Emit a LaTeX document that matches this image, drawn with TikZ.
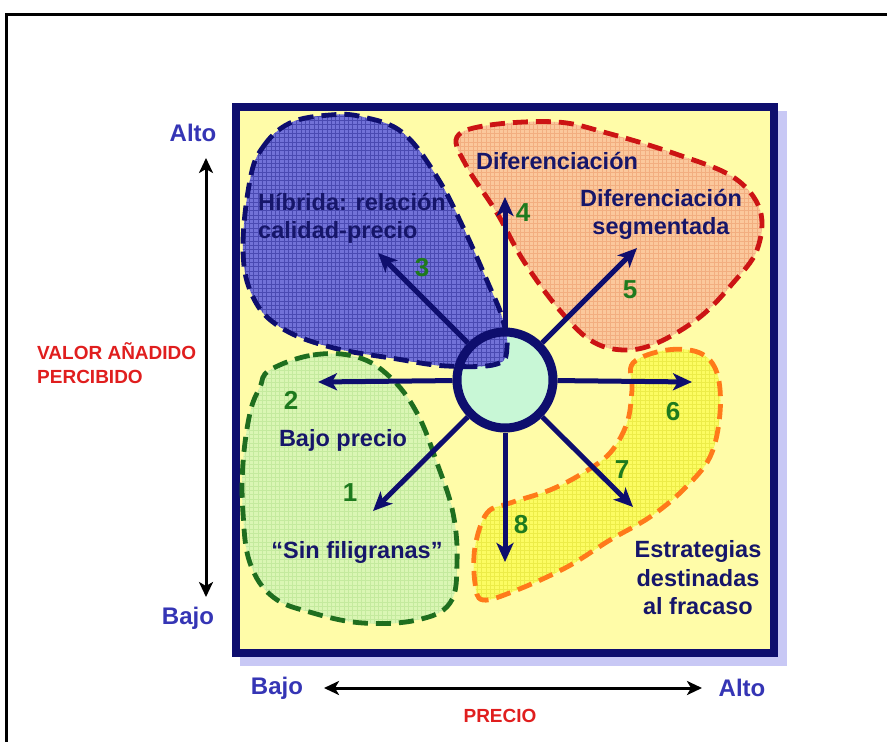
\documentclass[tikz,border=0pt]{standalone}
\usepackage{fontspec}
\setmainfont{Liberation Sans}
\usetikzlibrary{arrows.meta}

\definecolor{navy}{HTML}{0E0E6E}
\definecolor{labelnavy}{HTML}{16166A}
\definecolor{axisblue}{HTML}{3535B5}
\definecolor{axisred}{HTML}{E01E1E}
\definecolor{numgreen}{HTML}{1E7A1E}
\definecolor{boardbg}{HTML}{FFFCA8}
\definecolor{shadowlav}{HTML}{C8C8F5}
\definecolor{hubfill}{HTML}{C8F7D6}
\definecolor{hybfill}{HTML}{7272D8}
\definecolor{hybgrid}{HTML}{4A4AB2}
\definecolor{difffill}{HTML}{FBC89C}
\definecolor{diffgrid}{HTML}{F2AE80}
\definecolor{diffline}{HTML}{CC1414}
\definecolor{lowfill}{HTML}{DAF6B4}
\definecolor{lowgrid}{HTML}{C4EA9E}
\definecolor{lowline}{HTML}{1F6E1F}
\definecolor{failfill}{HTML}{FCFC62}
\definecolor{failgrid}{HTML}{ECEC48}
\definecolor{failline}{HTML}{FF7A1A}

\tikzset{
  zoneline/.style={line width=4.8pt, dash pattern=on 15pt off 8pt},
  stratarrow/.style={navy, line width=5pt, -{Stealth[length=19pt,width=17pt,inset=5pt]}},
  axisarrow/.style={black, line width=3pt, {Stealth[length=15pt,width=14pt,inset=4pt]}-{Stealth[length=15pt,width=14pt,inset=4pt]}},
  zonetext/.style={labelnavy, font=\fontsize{23.5}{28}\selectfont\bfseries, inner sep=0pt},
  numtext/.style={numgreen, font=\fontsize{26}{28}\selectfont\bfseries, inner sep=0pt},
  axislabel/.style={axisblue, font=\fontsize{24}{28}\selectfont\bfseries, inner sep=0pt},
  axistitle/.style={axisred, font=\fontsize{19}{24}\selectfont\bfseries, inner sep=0pt}
}

\begin{document}
\begin{tikzpicture}[x=1pt, y=-1pt]
\useasboundingbox (0,0) rectangle (887,742);

% outer frame
\draw[black, line width=3pt] (6,742) -- (6,14) -- (887,14);

% board with its shadow
\fill[shadowlav] (240,111) rectangle (787,666);
\draw[navy, line width=8pt, fill=boardbg] (236,107) rectangle (774,653);

% hub background (zones are laid over it)
\fill[hubfill] (505,380) circle (48);

% zone shapes
\def\hybzone{plot[smooth cycle, tension=0.65] coordinates {(250,180) (263,147) (290,123) (330,115) (363,117) (403,133) (437,177) (463,227) (488,283) (502,317) (507,347) (497,364) (447,366) (397,359) (330,347) (280,327) (253,297) (243,250)}}
\def\diffzone{plot[smooth cycle, tension=0.6] coordinates {(457,137) (490,125) (557,122) (607,133) (673,153) (733,177) (760,210) (757,250) (733,283) (700,317) (657,343) (623,350) (590,340) (557,307) (523,260) (497,213) (467,167)}}
\def\lowzone{plot[smooth cycle, tension=0.65] coordinates {(270,370) (313,355) (357,357) (390,377) (417,413) (437,463) (453,513) (457,563) (450,603) (417,620) (363,623) (313,613) (273,597) (250,563) (243,513) (243,463) (250,413) (260,387)}}
\def\failzone{plot[smooth cycle, tension=0.6] coordinates {(633,363) (667,350) (700,353) (717,373) (720,413) (710,457) (683,490) (650,517) (610,540) (567,567) (517,590) (483,600) (475,583) (475,547) (487,513) (510,503) (550,490) (583,473) (610,453) (627,423) (632,390)}}

% each zone: fill, fine grid texture, dashed outline
\fill[hybfill] \hybzone;
\begin{scope}\clip \hybzone; \draw[hybgrid, line width=0.6pt, step=4.3pt] (230,100) grid (560,380);\end{scope}
\draw[navy, zoneline] \hybzone;

\fill[difffill] \diffzone;
\begin{scope}\clip \diffzone; \draw[diffgrid, line width=0.6pt, step=4.3pt] (440,110) grid (780,360);\end{scope}
\draw[diffline, zoneline] \diffzone;

\fill[lowfill] \lowzone;
\begin{scope}\clip \lowzone; \draw[lowgrid, line width=0.6pt, step=4.3pt] (230,340) grid (470,640);\end{scope}
\draw[lowline, zoneline] \lowzone;

\fill[failfill] \failzone;
\begin{scope}\clip \failzone; \draw[failgrid, line width=0.6pt, step=4.3pt] (460,340) grid (730,610);\end{scope}
\draw[failline, zoneline] \failzone;

% hub ring
\node (hub) [circle, draw=navy, line width=9pt, minimum size=96pt, inner sep=0pt] at (505,380) {};

% strategy arrow ends
\coordinate (t1) at (373,511);
\coordinate (t2) at (318,382);
\coordinate (t3) at (378,253);
\coordinate (t4) at (505,197);
\coordinate (t5) at (637,248);
\coordinate (t6) at (692,382);
\coordinate (t7) at (633,507);
\coordinate (t8) at (505,562);
\foreach \k in {1,...,8} {\draw[stratarrow] (hub) -- (t\k);}

% strategy numbers
\node[numtext] (n1) at (350,493) {1};
\node[numtext] (n2) at (291,400) {2};
\node[numtext] (n3) at (422,268) {3};
\node[numtext] (n4) at (523,213) {4};
\node[numtext] (n5) at (630,290) {5};
\node[numtext] (n6) at (673,412) {6};
\node[numtext] (n7) at (622,470) {7};
\node[numtext] (n8) at (521,525) {8};

% zone labels
\node[zonetext, anchor=west, align=left] (hyb) at (258,218) {Híbrida: relación\\calidad-precio};
\node[zonetext] (diff) at (557,161) {Diferenciación};
\node[zonetext, align=center] (seg) at (661,214) {Diferenciación\\segmentada};
\node[zonetext] (low) at (343,440) {Bajo precio};
\node[zonetext] (frills) at (357,552) {“Sin filigranas”};
\node[zonetext, align=center, font=\fontsize{23.5}{28.5}\selectfont\bfseries] (fail) at (698,578) {Estrategias\\destinadas\\al fracaso};

% value axis
\node[axislabel] (vhigh) at (193,133) {Alto};
\node[axislabel] (vlow) at (188,618) {Bajo};
\coordinate (vtop) at (206,158);
\coordinate (vbot) at (206,597);
\draw[axisarrow] (vtop) -- (vbot);
\node[axistitle, anchor=west, align=left, font=\fontsize{19}{24}\selectfont\bfseries] (vtitle) at (37,363) {VALOR AÑADIDO\\PERCIBIDO};

% price axis
\node[axislabel] (plow) at (277,688) {Bajo};
\node[axislabel] (phigh) at (742,688) {Alto};
\coordinate (pl) at (324,688);
\coordinate (pr) at (702,688);
\draw[axisarrow] (pl) -- (pr);
\node[axistitle] (ptitle) at (500,716) {PRECIO};
\end{tikzpicture}
\end{document}
